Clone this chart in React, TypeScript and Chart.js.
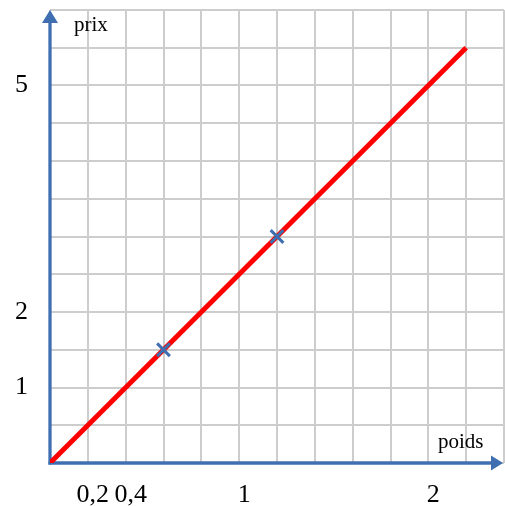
import React, { useEffect, useRef } from "react";
import { Chart, registerables } from "chart.js";

Chart.register(...registerables);

// Data
const lineX = [0, 2.2];
const lineY = [0, 5.5];
const pointX = [0.6, 1.2];
const pointY = [1.5, 3];
const xTickValues = [0.2, 0.4, 1, 2];
const xTickLabels = ["0,2", "0,4", "1", "2"];
const yTickValues = [1, 2, 5];
const yTickLabels = ["1", "2", "5"];
const xTitle = "poids";
const yTitle = "prix";

const BLUE = "#3F6FB0";
const SERIF = '"Liberation Serif", "Times New Roman", serif';

function labelFor(v: number, values: number[], labels: string[]) {
  const r = Math.round(v * 100) / 100;
  const i = values.findIndex((t) => Math.abs(t - r) < 1e-6);
  return i >= 0 ? labels[i] : "";
}

const axesPlugin = {
  id: "arrowAxes",
  beforeDatasetsDraw(chart: any) {
    const { ctx, chartArea, scales } = chart;
    const x0 = scales.x.getPixelForValue(0);
    const y0 = scales.y.getPixelForValue(0);
    ctx.save();
    ctx.strokeStyle = BLUE;
    ctx.fillStyle = BLUE;
    ctx.lineWidth = 3.3;
    // y axis
    const topTip = chartArea.top;
    ctx.beginPath();
    ctx.moveTo(x0, y0 + 1.5);
    ctx.lineTo(x0, topTip + 11);
    ctx.stroke();
    ctx.beginPath();
    ctx.moveTo(x0, topTip);
    ctx.lineTo(x0 - 8, topTip + 13);
    ctx.lineTo(x0 + 8, topTip + 13);
    ctx.closePath();
    ctx.fill();
    // x axis
    const rightTip = chartArea.right - 1;
    ctx.beginPath();
    ctx.moveTo(x0 - 1.5, y0);
    ctx.lineTo(rightTip - 10, y0);
    ctx.stroke();
    ctx.beginPath();
    ctx.moveTo(rightTip, y0);
    ctx.lineTo(rightTip - 12, y0 - 7.5);
    ctx.lineTo(rightTip - 12, y0 + 7.5);
    ctx.closePath();
    ctx.fill();
    // titles
    ctx.fillStyle = "#000";
    ctx.font = `21px ${SERIF}`;
    ctx.textBaseline = "alphabetic";
    ctx.textAlign = "left";
    ctx.fillText(yTitle, x0 + 24, chartArea.top + 21);
    ctx.fillText(xTitle, chartArea.right - 66, y0 - 15);
    ctx.restore();
  },
};

export default function App() {
  const ref = useRef<HTMLCanvasElement>(null);
  useEffect(() => {
    document.body.style.margin = "0";
    const chart = new Chart(ref.current!, {
      type: "scatter",
      data: {
        datasets: [
          {
            data: pointX.map((x, i) => ({ x, y: pointY[i] })),
            pointStyle: "crossRot",
            pointRadius: 9,
            pointBorderWidth: 3,
            borderWidth: 3,
            borderColor: BLUE,
            backgroundColor: BLUE,
            showLine: false,
          } as any,
          {
            data: lineX.map((x, i) => ({ x, y: lineY[i] })),
            showLine: true,
            borderColor: "#FF0000",
            borderWidth: 5,
            pointRadius: 0,
            fill: false,
          } as any,
        ],
      },
      plugins: [axesPlugin],
      options: {
        animation: false,
        responsive: false,
        maintainAspectRatio: false,
        layout: { autoPadding: false, padding: { top: 10, right: 1, left: 0, bottom: 0 } },
        plugins: { legend: { display: false }, tooltip: { enabled: false } },
        scales: {
          x: {
            type: "linear",
            min: 0,
            max: 2.4,
            afterFit: (s: any) => {
              s.height = 43;
              s.paddingLeft = 0;
              s.paddingRight = 0;
            },
            border: { display: false },
            grid: { color: "#CDCDCD", lineWidth: 2, drawTicks: false },
            ticks: {
              stepSize: 0.2,
              autoSkip: false,
              maxRotation: 0,
              padding: 17,
              labelOffset: 5,
              color: "#000",
              font: { family: SERIF, size: 26 },
              callback: (v: any) => labelFor(Number(v), xTickValues, xTickLabels),
            },
          },
          y: {
            type: "linear",
            min: 0,
            max: 6,
            afterFit: (s: any) => {
              s.width = 50;
              s.paddingTop = 0;
              s.paddingBottom = 0;
            },
            border: { display: false },
            grid: { color: "#CDCDCD", lineWidth: 2, drawTicks: false },
            ticks: {
              stepSize: 0.5,
              autoSkip: false,
              padding: 22,
              color: "#000",
              font: { family: SERIF, size: 26 },
              callback: (v: any) => labelFor(Number(v), yTickValues, yTickLabels),
            },
          },
        },
      },
    } as any);
    return () => chart.destroy();
  }, []);
  return <canvas ref={ref} width={505} height={506} style={{ display: "block" }} />;
}
